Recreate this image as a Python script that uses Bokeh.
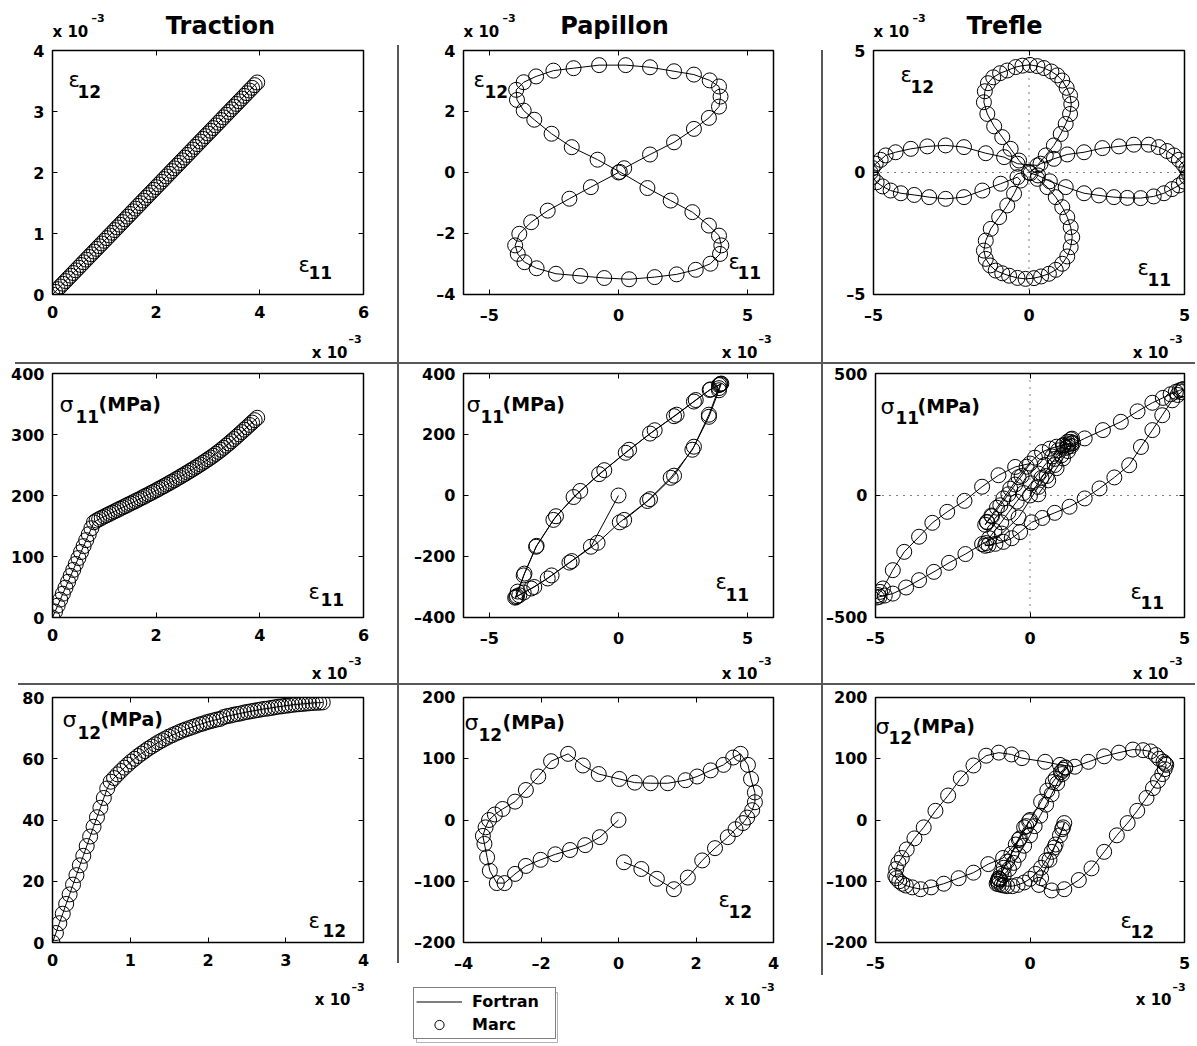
from bokeh.plotting import figure
from bokeh.models import (Label, Span, FixedTicker, LinearAxis, Legend, LegendItem,
                          Range1d, Spacer, CustomJSTickFormatter, BoxAnnotation)
from bokeh.layouts import row, column
from bokeh.embed import file_html
from bokeh.resources import INLINE

FONT = "DejaVu Sans"

# ---------------- data (strain in units of 1e-3, stress in MPa) ----------------
titles = ["Traction", "Papillon", "Trefle"]
legend_labels = ["Fortran", "Marc"]

# Traction
trac_e11 = [0.00, 0.05, 0.10, 0.15, 0.20, 0.25, 0.30, 0.35, 0.40, 0.45, 0.50, 0.55, 0.60, 0.65,
            0.70, 0.75, 0.80, 0.85, 0.90, 0.95, 1.00, 1.05, 1.10, 1.15, 1.20, 1.25, 1.30, 1.35,
            1.40, 1.45, 1.50, 1.55, 1.60, 1.65, 1.70, 1.75, 1.80, 1.85, 1.90, 1.95, 2.00, 2.05,
            2.10, 2.15, 2.20, 2.25, 2.30, 2.35, 2.40, 2.45, 2.50, 2.55, 2.60, 2.65, 2.70, 2.75,
            2.80, 2.85, 2.90, 2.95, 3.00, 3.05, 3.10, 3.15, 3.20, 3.25, 3.30, 3.35, 3.40, 3.45,
            3.50, 3.55, 3.60, 3.65, 3.70, 3.75, 3.80, 3.85, 3.90, 3.95]
trac_e12 = [0.000, 0.044, 0.088, 0.132, 0.176, 0.220, 0.264, 0.308, 0.352, 0.396, 0.440, 0.484,
            0.528, 0.572, 0.616, 0.660, 0.704, 0.748, 0.792, 0.836, 0.880, 0.924, 0.968, 1.012,
            1.056, 1.100, 1.144, 1.188, 1.232, 1.276, 1.320, 1.364, 1.408, 1.452, 1.496, 1.540,
            1.584, 1.628, 1.672, 1.716, 1.760, 1.804, 1.848, 1.892, 1.936, 1.980, 2.024, 2.068,
            2.112, 2.156, 2.200, 2.244, 2.288, 2.332, 2.376, 2.420, 2.464, 2.508, 2.552, 2.596,
            2.640, 2.684, 2.728, 2.772, 2.816, 2.860, 2.904, 2.948, 2.992, 3.036, 3.080, 3.124,
            3.168, 3.212, 3.256, 3.300, 3.344, 3.388, 3.432, 3.476]
trac_s11 = [0, 9.8, 19.5, 29.3, 39.0, 48.8, 58.5, 68.3, 78.0, 87.8, 97.5, 107.3, 117.0, 126.8,
            136.5, 146.3, 156.0,
            159.0, 161.3, 163.5, 165.7, 167.8, 169.9, 172.0, 174.1, 176.2, 178.3, 180.4, 182.5,
            184.6, 186.7, 188.8, 190.9, 193.0, 195.2, 197.4, 199.6, 201.8, 204.0, 206.2, 208.5,
            210.8, 213.1, 215.4, 217.8, 220.2, 222.6, 225.0, 227.5, 230.0, 232.5, 235.0, 237.6,
            240.2, 242.8, 245.5, 248.2, 250.9, 253.7, 256.5, 259.3, 262.2, 265.2, 268.3, 271.5,
            274.8, 278.2, 281.7, 285.3, 288.9, 292.6, 296.4, 300.2, 304.0, 307.9, 311.8, 315.7,
            319.6, 323.5, 327.4]
trac_s12 = [0, 3.1, 6.3, 9.4, 12.6, 15.7, 18.9, 22.0, 25.2, 28.3, 31.5, 34.6, 37.8, 40.9, 44.0,
            47.2, 50.3,
            52.5, 53.7, 54.9, 56.0, 57.1, 58.1, 59.1, 60.0, 60.9, 61.7, 62.5, 63.3, 64.0, 64.7,
            65.4, 66.0, 66.6, 67.2, 67.7, 68.2, 68.7, 69.2, 69.6, 70.0, 70.4, 70.8, 71.2, 71.5,
            71.9, 72.2, 72.5, 72.8, 73.0,
            73.6, 73.9, 74.1, 74.4, 74.6, 74.8, 75.1, 75.3, 75.5, 75.7, 75.9, 76.1, 76.3, 76.4,
            76.6, 76.8, 77.0, 77.1, 77.3, 77.4, 77.6, 77.7, 77.8, 77.9, 78.0, 78.1, 78.2, 78.3,
            78.3, 78.4]

# Papillon
pap_e11 = [0.00, -1.07, -1.90, -2.74, -3.38, -3.84, -4.00, -3.90, -3.64, -3.17, -2.42, -1.48,
           -0.55, 0.41, 1.40, 2.25, 2.99, 3.56, 3.93, 3.98, 3.89, 3.50, 2.86, 2.02, 1.12, 0.05,
           -0.81, -1.81, -2.59, -3.26, -3.67, -3.93, -3.96, -3.67, -3.19, -2.52, -1.74, -0.75,
           0.28, 1.22, 2.15, 2.92, 3.53, 3.89, 3.95, 3.89, 3.50, 2.92, 2.15, 1.22, 0.22]
pap_e12 = [0.00, -0.48, -0.86, -1.25, -1.63, -2.01, -2.39, -2.67, -2.94, -3.14, -3.32, -3.39,
           -3.46, -3.50, -3.43, -3.34, -3.19, -2.99, -2.67, -2.39, -2.07, -1.74, -1.30, -0.92,
           -0.51, 0.02, 0.42, 0.83, 1.27, 1.73, 2.03, 2.38, 2.71, 2.96, 3.15, 3.34, 3.42, 3.52,
           3.52, 3.45, 3.32, 3.21, 3.02, 2.82, 2.49, 2.16, 1.79, 1.43, 0.99, 0.59, 0.14]
pap_s11 = [0, -168, -220, -272, -305, -327, -335, -315, -256, -165, -68, 15, 83, 150, 214, 265,
           313, 348, 364, 367, 345, 258, 150, 58, -18, -88, -155, -215, -262, -300, -318, -330,
           -333, -262, -168, -80, -5, 70, 140, 203, 260, 308, 346, 362, 366, 352, 265, 160, 65,
           -12, -80]
pap_s12 = [0, -28, -41, -49, -56, -65, -75, -88, -103, -103, -83, -61, -39, -26, -12, 0, 9, 18,
           30, 49, 71, 96, 108, 89, 75, 67, 61, 60, 60, 65, 71, 81, 90, 102, 108, 90, 67, 45, 29,
           16, 4, -5, -15, -28, -46, -66, -94, -113, -96, -80, -69]

# Trefle: strain path
tre_e11 = [0.00,
           0.37, 0.80, 1.23, 1.77, 2.36, 2.89, 3.37, 3.85, 4.17, 4.44, 4.66, 4.82, 4.96, 5.06, 5.12,
           5.08, 4.98, 4.82, 4.60, 4.34, 4.01, 3.59, 3.16, 2.73, 2.25, 1.77, 1.18, 0.67, 0.29, 0.05,
           -0.32, -0.59, -0.86, -1.12, -1.34, -1.45, -1.42, -1.32, -1.15, -0.93, -0.70, -0.43,
           -0.21, 0.03, 0.27, 0.48, 0.72, 0.91, 1.07, 1.21, 1.32, 1.36, 1.32, 1.18, 1.02, 0.80,
           0.54, 0.27,
           -0.37, -0.80, -1.39, -2.09, -2.68, -3.27, -3.80, -4.29, -4.61, -4.77, -4.93, -5.03,
           -5.09, -5.03, -4.90, -4.71, -4.45, -4.12, -3.69, -3.21, -2.68, -2.09, -1.50, -0.91,
           -0.37,
           -0.27, -0.48, -0.70, -0.96, -1.23, -1.39, -1.45, -1.39, -1.25, -1.07, -0.86, -0.64,
           -0.37, -0.11, 0.16, 0.39, 0.64, 0.86, 1.07, 1.23, 1.34, 1.39, 1.34, 1.23, 1.07, 0.86,
           0.59, 0.27]
tre_e12 = [0.00,
           0.36, 0.56, 0.74, 0.83, 1.00, 1.07, 1.14, 1.14, 1.04, 0.88, 0.70, 0.52, 0.33, 0.15, 0.00,
           -0.19, -0.37, -0.53, -0.68, -0.85, -0.98, -1.05, -1.04, -1.01, -0.94, -0.85, -0.60,
           -0.36, -0.12, -0.03,
           0.49, 0.97, 1.45, 1.89, 2.40, 2.88, 3.33, 3.66, 3.90, 4.07, 4.18, 4.32, 4.38, 4.41,
           4.36, 4.28, 4.14, 3.98, 3.77, 3.47, 3.16, 2.81, 2.40, 1.99, 1.58, 1.11, 0.70, 0.29,
           0.36, 0.63, 0.79, 1.04, 1.11, 1.07, 0.97, 0.83, 0.70, 0.52, 0.36, 0.18, 0.00, -0.19,
           -0.40, -0.57, -0.74, -0.85, -0.92, -1.01, -1.08, -1.01, -0.74, -0.46, -0.19,
           -0.33, -0.87, -1.35, -1.83, -2.31, -2.79, -3.20, -3.54, -3.81, -4.02, -4.13, -4.23,
           -4.32, -4.36, -4.33, -4.26, -4.15, -3.99, -3.74, -3.44, -3.06, -2.65, -2.24, -1.83,
           -1.42, -1.01, -0.60, -0.26]

# Trefle: sigma11 vs eps11
tre_s11_x = [0.00, 0.37, 0.80, 1.23, 1.77, 2.36, 2.94, 3.48, 3.96, 4.30, 4.55, 4.72, 4.84, 4.92, 4.96,
             4.90, 4.78, 4.60, 4.28, 3.96, 3.59, 3.21, 2.73, 2.25, 1.77, 1.28, 0.80, 0.40, 0.05,
             -0.32, -0.59, -0.86, -1.12, -1.34, -1.45, -1.42, -1.32, -1.15, -0.93, -0.70, -0.43,
             -0.21, 0.03, 0.27, 0.48, 0.72, 0.91, 1.07, 1.21, 1.32, 1.36, 1.32, 1.18, 1.02, 0.80,
             0.54, 0.27,
             -0.37, -0.91, -1.55, -2.09, -2.62, -3.11, -3.59, -4.01, -4.44, -4.70, -4.87, -4.95,
             -4.92, -4.85, -4.76, -4.44, -4.07, -3.59, -3.16, -2.68, -2.12, -1.55, -1.02, -0.48, 0.00,
             -0.27, -0.48, -0.70, -0.96, -1.23, -1.39, -1.45, -1.39, -1.25, -1.07, -0.86, -0.64,
             -0.37, -0.11, 0.16, 0.39, 0.64, 0.86, 1.07, 1.23, 1.34, 1.39, 1.34, 1.23, 1.07, 0.86,
             0.59, 0.27]
tre_s11 = [0, 72, 150, 200, 234, 268, 302, 345, 380, 400, 415, 425, 431, 434, 436,
           424, 412, 390, 329, 268, 199, 124, 74, 29, -12, -46, -71, -92, -110,
           -150, -175, -190, -198, -203, -206, -195, -175, -145, -110, -70, -25, 10, 50, 90, 125,
           160, 185, 205, 220, 230, 233, 220, 195, 165, 125, 80, 35,
           -90, -156, -199, -240, -276, -313, -347, -377, -402, -410, -415, -418, -408, -395, -381,
           -306, -231, -169, -112, -67, -22, 36, 83, 117, 131,
           80, 45, 5, -40, -85, -110, -120, -108, -82, -50, -12, 28, 75, 118, 155, 178, 192, 200,
           206, 210, 213, 215, 203, 182, 152, 112, 62, 5]

# Trefle: sigma12 vs eps12
tre_s12_x = [0.00, 0.36, 0.56, 0.74, 0.83, 1.00, 1.07, 1.14, 1.14, 1.04, 0.88, 0.70, 0.52, 0.33,
             0.15, 0.00, -0.19, -0.37, -0.53, -0.68, -0.85, -0.98, -1.05, -1.04, -1.01, -0.94,
             -0.85, -0.60, -0.36, -0.12, -0.03,
             -0.33, -0.87, -1.35, -1.83, -2.31, -2.79, -3.20, -3.54, -3.81, -4.02, -4.13, -4.23,
             -4.32, -4.36, -4.33, -4.26, -4.15, -3.99, -3.74, -3.44, -3.06, -2.65, -2.24, -1.83,
             -1.42, -1.01, -0.60, -0.26,
             0.49, 0.97, 1.45, 1.89, 2.40, 2.88, 3.33, 3.66, 3.90, 4.07, 4.18, 4.32, 4.38, 4.41,
             4.36, 4.28, 4.14, 3.98, 3.77, 3.47, 3.16, 2.81, 2.40, 1.99, 1.58, 1.11, 0.70, 0.29,
             0.36, 0.63, 0.79, 1.04, 1.11, 1.07, 0.97, 0.83, 0.70, 0.52, 0.36, 0.18, 0.00, -0.19,
             -0.40, -0.57, -0.74, -0.85, -0.92, -1.01, -1.08, -1.01, -0.74, -0.46, -0.19]
tre_s12 = [0, 30, 48, 62, 68, 78, 82, 86, 85, 75, 60, 42, 25, 7, -10, -25, -42, -57, -70, -80,
           -90, -97, -101, -99, -95, -88, -78, -55, -32, -10, -2,
           -30, -62, -72, -86, -95, -104, -110, -113, -110, -107, -104, -100, -95, -91, -80, -70,
           -62, -48, -30, -12, 15, 40, 68, 89, 105, 110, 107, 101,
           95, 90, 87, 95, 104, 110, 115, 114, 112, 106, 100, 95, 92, 90, 83, 75, 64, 52, 36, 15,
           -5, -25, -52, -79, -98, -113, -115, -106,
           -95, -65, -45, -15, -5, -12, -25, -40, -52, -66, -78, -88, -96, -102, -106, -108, -108,
           -107, -106, -105, -104, -96, -68, -40, -12]

for a, b in [(trac_e11, trac_s11), (trac_e12, trac_s12), (trac_e11, trac_e12),
             (pap_e11, pap_e12), (pap_e11, pap_s11), (pap_e12, pap_s12),
             (tre_e11, tre_e12), (tre_s11_x, tre_s11), (tre_s12_x, tre_s12)]:
    assert len(a) == len(b), (len(a), len(b))

# axis ranges and ticks
x_ticks = {"r1c1": [0, 2, 4, 6], "r1c2": [-5, 0, 5], "r1c3": [-5, 0, 5],
           "r2c1": [0, 2, 4, 6], "r2c2": [-5, 0, 5], "r2c3": [-5, 0, 5],
           "r3c1": [0, 1, 2, 3, 4], "r3c2": [-4, -2, 0, 2, 4], "r3c3": [-5, 0, 5]}
y_ticks = {"r1c1": [0, 1, 2, 3, 4], "r1c2": [-4, -2, 0, 2, 4], "r1c3": [-5, 0, 5],
           "r2c1": [0, 100, 200, 300, 400], "r2c2": [-400, -200, 0, 200, 400], "r2c3": [-500, 0, 500],
           "r3c1": [0, 20, 40, 60, 80], "r3c2": [-200, -100, 0, 100, 200], "r3c3": [-200, -100, 0, 100, 200]}
x_ranges = {"r1c1": (0, 6), "r1c2": (-6, 6), "r1c3": (-5, 5), "r2c1": (0, 6), "r2c2": (-6, 6),
            "r2c3": (-5, 5), "r3c1": (0, 4), "r3c2": (-4, 4), "r3c3": (-5, 5)}
y_ranges = {"r1c1": (0, 4), "r1c2": (-4, 4), "r1c3": (-5, 5), "r2c1": (0, 400), "r2c2": (-400, 400),
            "r2c3": (-500, 500), "r3c1": (0, 80), "r3c2": (-200, 200), "r3c3": (-200, 200)}

# ---------------- geometry (pixels) ----------------
COLS = [(52, 311, 34), (64, 310, 48), (50, 311, 11)]     # left border, frame width, right border
ROWS = [(9, 244, 33), (9, 244, 33), (12, 245, 33)]       # top border, frame height, bottom border
TOP_H = 41
STRIP_H = [35, 33, 68]
LINE = "#585858"
YFIX = 6   # baseline correction for Label placement

FMT = CustomJSTickFormatter(code="return tick < 0 ? '\u2013' + Math.abs(tick) : '' + tick;")


def lab(p, fh, dx, dy, text, size, bold=True, align="left"):
    p.add_layout(Label(x=dx, y=fh - dy + YFIX, x_units="screen", y_units="screen", text=text,
                       text_font=FONT, text_font_size=f"{size}px",
                       text_font_style="bold" if bold else "normal",
                       text_align=align, text_baseline="alphabetic", text_color="black"))


def make_fig(key, r, c):
    bl, fw, br = COLS[c]
    bt, fh, bb = ROWS[r]
    p = figure(width=bl + fw + br, height=bt + fh + bb,
               x_range=Range1d(*x_ranges[key]), y_range=Range1d(*y_ranges[key]),
               toolbar_location=None, output_backend="svg",
               min_border_left=bl, min_border_right=br, min_border_top=bt, min_border_bottom=bb,
               background_fill_color="white", border_fill_color="white")
    p.grid.visible = False
    p.outline_line_color = "black"
    p.outline_line_width = 1.5
    for ax, ticks, std in ((p.xaxis[0], x_ticks[key], 11), (p.yaxis[0], y_ticks[key], 8)):
        ax.ticker = FixedTicker(ticks=ticks)
        ax.formatter = FMT
        ax.axis_line_color = None
        ax.major_tick_in = 5
        ax.major_tick_out = 0
        ax.minor_tick_line_color = None
        ax.minor_tick_out = 0
        ax.major_tick_line_color = "black"
        ax.major_label_standoff = std
        ax.major_label_text_font = FONT
        ax.major_label_text_font_style = "bold"
        ax.major_label_text_font_size = "16px"
        ax.major_label_text_color = "black"
    for ticks, place in ((x_ticks[key], "above"), (y_ticks[key], "right")):
        ax = LinearAxis(ticker=FixedTicker(ticks=ticks), axis_line_color=None,
                        major_tick_in=5, major_tick_out=0, minor_tick_line_color=None,
                        minor_tick_out=0, minor_tick_in=0, major_label_standoff=0,
                        major_label_text_font_size="0px", major_label_text_alpha=0)
        p.add_layout(ax, place)
    return p, fw, fh


def strip(w, h):
    # text-only band; its data window lies far away from every data value
    p = figure(width=w, height=h, x_range=Range1d(1000, 1000 + w), y_range=Range1d(1000, 1000 + h),
               toolbar_location=None, output_backend="svg", min_border=0,
               x_axis_type=None, y_axis_type=None, outline_line_color=None,
               background_fill_color="white", border_fill_color="white")
    return p


data = {"r1c1": (trac_e11, trac_e12), "r1c2": (pap_e11, pap_e12), "r1c3": (tre_e11, tre_e12),
        "r2c1": (trac_e11, trac_s11), "r2c2": (pap_e11, pap_s11), "r2c3": (tre_s11_x, tre_s11),
        "r3c1": (trac_e12, trac_s12), "r3c2": (pap_e12, pap_s12), "r3c3": (tre_s12_x, tre_s12)}

# in-frame text placement (text, dx, baseline dy, size, bold) relative to frame top-left
sym_pos = {
    "r1c1": [("ε", 16, 35, 21, False), ("12", 25, 47, 17, True), ("ε", 246, 220, 21, False), ("11", 256, 228, 17, True)],
    "r1c2": [("ε", 10, 35, 21, False), ("12", 21, 47, 17, True), ("ε", 265, 217, 21, False), ("11", 274, 228, 17, True)],
    "r1c3": [("ε", 27, 30, 21, False), ("12", 37, 42, 17, True), ("ε", 264, 223, 21, False), ("11", 274, 235, 17, True)],
    "r2c1": [("σ", 7, 37, 22, False), ("11", 23, 49, 17, True), ("(MPa)", 46, 36, 19, True),
             ("ε", 256, 224, 21, False), ("11", 268, 232, 17, True)],
    "r2c2": [("σ", 3, 37, 22, False), ("11", 17, 49, 17, True), ("(MPa)", 39, 36, 19, True),
             ("ε", 252, 214, 21, False), ("11", 262, 227, 17, True)],
    "r2c3": [("σ", 5, 39, 22, False), ("11", 20, 50, 17, True), ("(MPa)", 42, 38, 19, True),
             ("ε", 255, 224, 21, False), ("11", 265, 235, 17, True)],
    "r3c1": [("σ", 10, 28, 22, False), ("12", 25, 41, 17, True), ("(MPa)", 48, 27, 19, True),
             ("ε", 256, 229, 21, False), ("12", 270, 239, 17, True)],
    "r3c2": [("σ", 1, 31, 22, False), ("12", 15, 43, 17, True), ("(MPa)", 39, 30, 19, True),
             ("ε", 255, 208, 21, False), ("12", 265, 220, 17, True)],
    "r3c3": [("σ", 0, 35, 22, False), ("12", 13, 46, 17, True), ("(MPa)", 37, 34, 19, True),
             ("ε", 245, 229, 21, False), ("12", 255, 240, 17, True)],
}
title_dx = [168, 151, 131]
xexp = [(31, 18, 16), (29, 17, 16), (30, 18, 13)]   # strip baselines of "x 10" / superscript, right inset

figs = {}
for r in range(3):
    for c in range(3):
        key = f"r{r + 1}c{c + 1}"
        p, fw, fh = make_fig(key, r, c)
        xs, ys = data[key]
        if c == 2 and r < 2:
            p.add_layout(Span(location=0, dimension="height", line_color="black",
                              line_dash="1 6", line_width=1, level="underlay"))
            p.add_layout(Span(location=0, dimension="width", line_color="black",
                              line_dash="1 6", line_width=1, level="underlay"))
        p.line(xs, ys, line_color="black", line_width=1)
        p.scatter(xs, ys, marker="circle", size=15, fill_color=None,
                  line_color="black", line_width=1)
        for t, dx, dy, sz, bold in sym_pos[key]:
            lab(p, fh, dx, dy, t, sz, bold)
        figs[key] = p

# strips: titles / exponent above row 1, exponents below each row
tops, bottoms = [], {0: [], 1: [], 2: []}
for c in range(3):
    bl, fw, br = COLS[c]
    w = bl + fw + br
    s = strip(w, TOP_H)
    lab(s, TOP_H, bl, 37, "x 10", 15, True)
    lab(s, TOP_H, bl + 39, 24, "\u20133", 11, True)
    lab(s, TOP_H, bl + title_dx[c], 31, titles[c], 24, True, "center")
    tops.append(s)
    for r in range(3):
        h = STRIP_H[r]
        s = strip(w, h)
        b, sup, inset = xexp[r]
        lab(s, h, bl + fw - inset, b, "x 10", 15, True, "right")
        lab(s, h, bl + fw - inset + 1, sup, "\u20133", 11, True)
        bottoms[r].append(s)

# legend in the strip under the middle bottom panel (same data as the Papillon sigma12 panel)
ls = bottoms[2][1]
ls.add_layout(BoxAnnotation(left=17, right=158, bottom=1, top=51,
                            left_units="screen", right_units="screen",
                            top_units="screen", bottom_units="screen",
                            fill_color="white", fill_alpha=1, line_color="black",
                            line_width=1, level="annotation"))
lr = ls.line(pap_e12, pap_s12, line_color="black", line_width=1)
sr = ls.scatter(pap_e12, pap_s12, marker="circle", size=15, fill_color=None,
                line_color="black", line_width=1)
legend = Legend(items=[LegendItem(label=legend_labels[0], renderers=[lr]),
                       LegendItem(label=legend_labels[1], renderers=[sr])],
                location=(14, 4), orientation="vertical",
                border_line_color="black", border_line_width=1.5, background_fill_color="white",
                background_fill_alpha=1, label_text_font=FONT, label_text_font_style="bold",
                label_text_font_size="16px", label_text_color="black", padding=2, spacing=0,
                margin=0, glyph_width=46, glyph_height=23, label_height=23, label_width=81,
                label_standoff=10)
ls.add_layout(legend)


def vline(top, h):
    return Spacer(width=2, height=h, margin=(top, 0, 0, 0), styles={"background-color": LINE})


def gap(h):
    return Spacer(width=2, height=h)


def hline(left, w):
    return Spacer(width=w, height=2, margin=(0, 0, 0, left), styles={"background-color": LINE})


h1 = sum(ROWS[0]); h2 = sum(ROWS[1]); h3 = sum(ROWS[2])
row0 = row(tops[0], gap(TOP_H), tops[1], gap(TOP_H), tops[2])
row1 = row(figs["r1c1"], vline(4, h1 - 4), figs["r1c2"], vline(9, h1 - 9), figs["r1c3"])
row1b = row(bottoms[0][0], vline(0, STRIP_H[0]), bottoms[0][1], vline(0, STRIP_H[0]), bottoms[0][2])
row2 = row(figs["r2c1"], vline(0, h2), figs["r2c2"], vline(0, h2), figs["r2c3"])
row2b = row(bottoms[1][0], vline(0, STRIP_H[1]), bottoms[1][1], vline(0, STRIP_H[1]), bottoms[1][2])
row3 = row(figs["r3c1"], vline(0, 278), figs["r3c2"], vline(0, h3), figs["r3c3"])
row3b = row(bottoms[2][0], gap(STRIP_H[2]), bottoms[2][1], gap(STRIP_H[2]), bottoms[2][2])
lay = column(row0, row1, row1b, hline(15, 1180), row2, row2b, hline(18, 1177), row3, row3b)

open("out.html", "w").write(file_html(lay, INLINE, title="Traction Papillon Trefle"))
